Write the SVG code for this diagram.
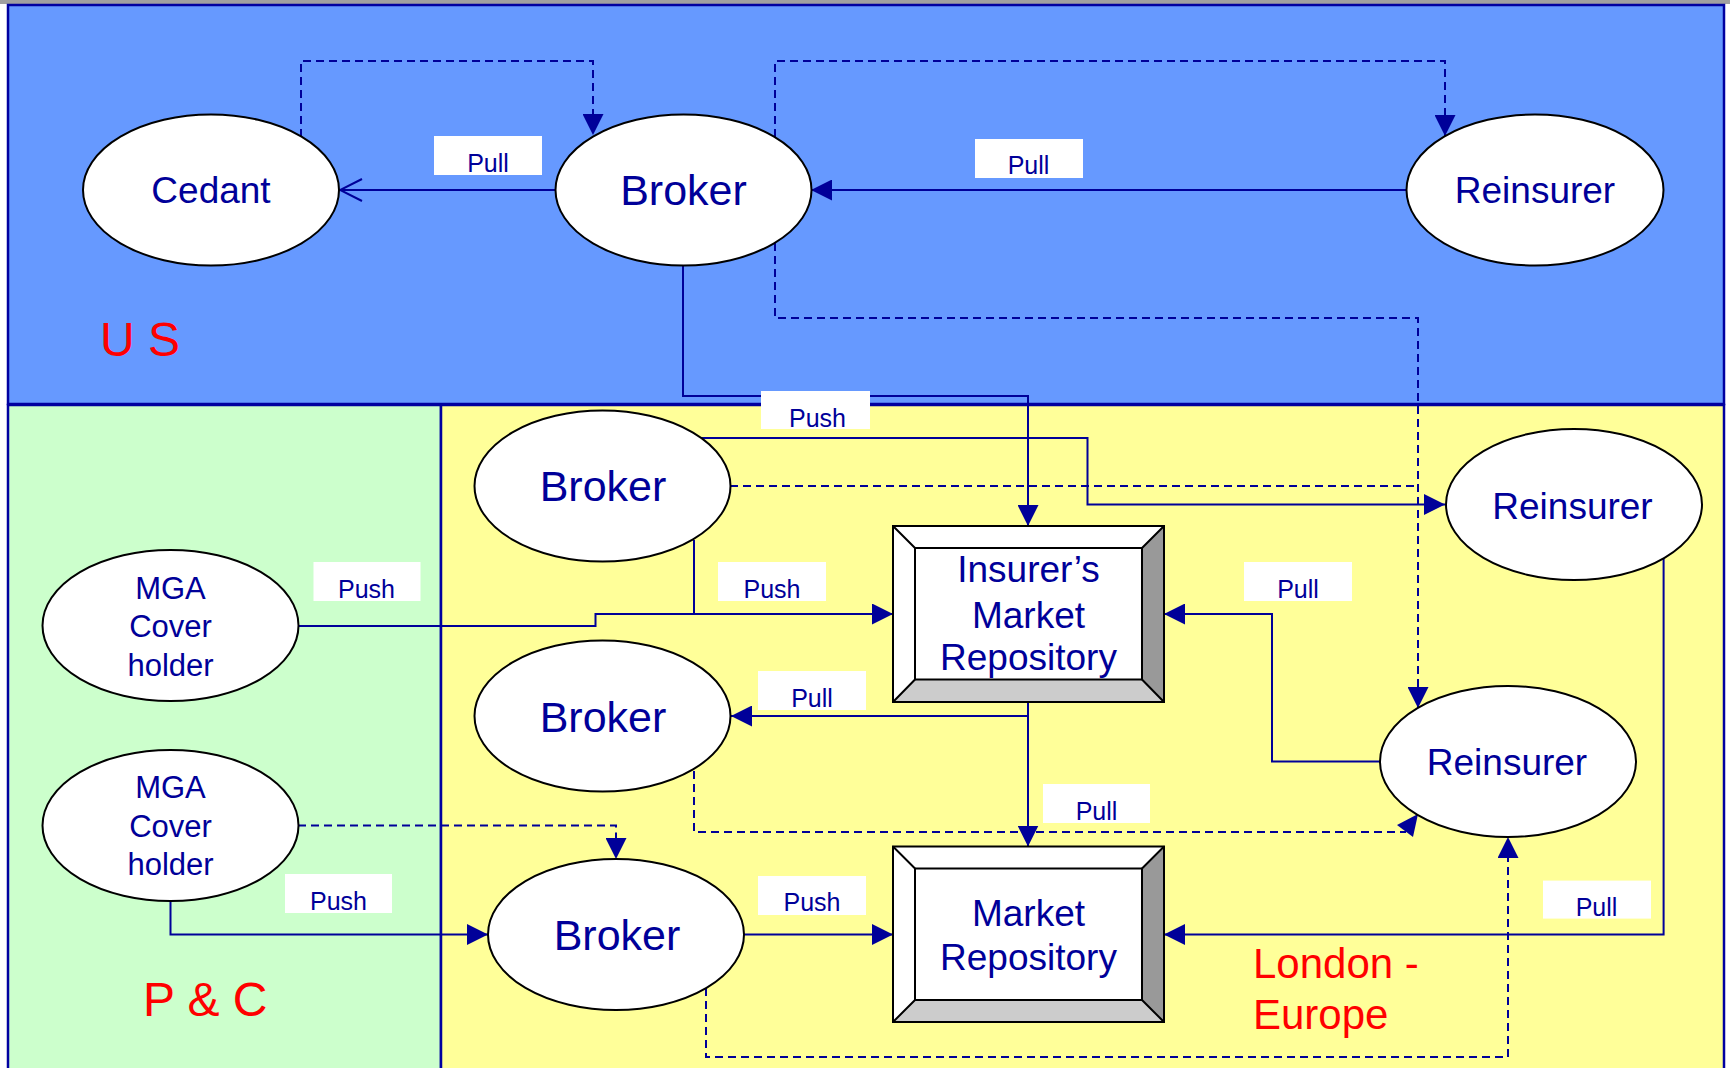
<svg xmlns="http://www.w3.org/2000/svg" width="1730" height="1068" viewBox="0 0 1730 1068">
<style>
.region{stroke:#0000A0;stroke-width:2.5}
.node ellipse{fill:#ffffff;stroke:#000000;stroke-width:2}
.nt{font-family:"Liberation Sans",Arial,sans-serif;fill:#000099;text-anchor:middle}
.ln{fill:none;stroke:#000099;stroke-width:2}
.dash{stroke-dasharray:8 5}
.lbl rect{fill:#ffffff}
.lbl text{font-family:"Liberation Sans",Arial,sans-serif;font-size:25px;fill:#000099;text-anchor:middle}
.reg{font-family:"Liberation Sans",Arial,sans-serif;fill:#ff0000}
.bev{stroke:#000000;stroke-width:2}
</style>
<defs>
<marker id="arr" viewBox="0 0 21 21" markerWidth="21" markerHeight="21" refX="21" refY="10.5" orient="auto" markerUnits="userSpaceOnUse">
<path d="M0,0 L21,10.5 L0,21 z" fill="#000099"/>
</marker>
<marker id="open" viewBox="-1 -1 25 25" markerWidth="25" markerHeight="25" refX="22" refY="11" orient="auto" markerUnits="userSpaceOnUse">
<path d="M0,0 L22,11 L0,22" fill="none" stroke="#000099" stroke-width="2"/>
</marker>
</defs>
<rect x="0" y="0" width="1730" height="1068" fill="#ffffff"/>
<rect x="0" y="0" width="1730" height="4" fill="#A0A0A0"/>
<g id="regions">
<rect class="region" x="8" y="5" width="1716" height="399" fill="#6699FF"/>
<rect class="region" x="8" y="405" width="433" height="665" fill="#CCFFCC"/>
<rect class="region" x="441" y="405" width="1283" height="665" fill="#FFFF99"/>
<text class="reg" x="100" y="356" font-size="48">U S</text>
<text class="reg" x="143" y="1016" font-size="48">P &amp; C</text>
<text class="reg" x="1253" y="978" font-size="42">London -</text>
<text class="reg" x="1253" y="1029" font-size="42">Europe</text>
</g>
<g id="connectors">
<path class="ln dash" d="M301,137 V61 H593 V135" marker-end="url(#arr)"/>
<path class="ln dash" d="M775,137 V61 H1445 V136" marker-end="url(#arr)"/>
<path class="ln dash" d="M775,243 V318 H1418 V708" marker-end="url(#arr)"/>
<path class="ln dash" d="M730,486 H1418"/>
<path class="ln dash" d="M694,771 V832 H1406"/>
<polygon points="1418,814 1397,825 1413,837" fill="#000099"/>
<path class="ln dash" d="M298,825.5 H616 V859" marker-end="url(#arr)"/>
<path class="ln dash" d="M706,988 V1057 H1508 V837" marker-end="url(#arr)"/>
<path class="ln" d="M555,190 H340" marker-end="url(#open)"/>
<path class="ln" d="M1407,190 H811" marker-end="url(#arr)"/>
<path class="ln" d="M683,266 V396 H1028 V526" marker-end="url(#arr)"/>
<path class="ln" d="M693,433 V438 H1087.5 V504.5 H1445" marker-end="url(#arr)"/>
<path class="ln" d="M298,626 H595.5 V614 H893" marker-end="url(#arr)"/>
<path class="ln" d="M694,540 V614"/>
<path class="ln" d="M1028,702 V716 H731" marker-end="url(#arr)"/>
<path class="ln" d="M1028,716 V846.5" marker-end="url(#arr)"/>
<path class="ln" d="M170.5,900.6 V934.5 H488" marker-end="url(#arr)"/>
<path class="ln" d="M744,934.5 H893" marker-end="url(#arr)"/>
<path class="ln" d="M1380,761.5 H1272 V614 H1164" marker-end="url(#arr)"/>
<path class="ln" d="M1663.6,558.5 V934.5 H1164" marker-end="url(#arr)"/>
<g class="lbl">
<rect x="434" y="136" width="108" height="39"/><text x="488" y="172">Pull</text>
<rect x="975" y="139" width="108" height="39"/><text x="1028.5" y="174">Pull</text>
<rect x="761" y="391" width="109" height="38"/><text x="817.5" y="427">Push</text>
<rect x="313.5" y="562" width="107" height="39"/><text x="366.5" y="598">Push</text>
<rect x="718" y="562" width="108" height="39"/><text x="772" y="598">Push</text>
<rect x="758" y="671" width="108" height="39"/><text x="812" y="707">Pull</text>
<rect x="285" y="874" width="107" height="39"/><text x="338.5" y="910">Push</text>
<rect x="758" y="876" width="108" height="39"/><text x="812" y="911">Push</text>
<rect x="1244" y="562" width="108" height="39"/><text x="1298" y="598">Pull</text>
<rect x="1043" y="784" width="107" height="39"/><text x="1096.5" y="820">Pull</text>
<rect x="1543" y="880.6" width="108" height="38"/><text x="1596.5" y="916">Pull</text>
</g>
</g>
<g id="cedant" class="node"><ellipse cx="211" cy="190" rx="128" ry="75.5"/><text class="nt" x="211" y="203" font-size="37">Cedant</text></g>
<g id="broker-us" class="node"><ellipse cx="683.5" cy="190" rx="128" ry="75.5"/><text class="nt" x="683.5" y="205" font-size="43">Broker</text></g>
<g id="reinsurer-us" class="node"><ellipse cx="1535" cy="190" rx="128.5" ry="75.5"/><text class="nt" x="1535" y="203" font-size="37">Reinsurer</text></g>
<g id="broker-1" class="node"><ellipse cx="602.5" cy="486" rx="128" ry="75.5"/><text class="nt" x="603" y="501" font-size="43">Broker</text></g>
<g id="broker-2" class="node"><ellipse cx="602.5" cy="716" rx="128" ry="75.5"/><text class="nt" x="603" y="731.5" font-size="43">Broker</text></g>
<g id="broker-3" class="node"><ellipse cx="616" cy="934.5" rx="128" ry="75.5"/><text class="nt" x="617" y="949.5" font-size="43">Broker</text></g>
<g id="mga-1" class="node"><ellipse cx="170.5" cy="625.5" rx="128" ry="75.5"/><text class="nt" x="170.5" y="599" font-size="31">MGA</text><text class="nt" x="170.5" y="637" font-size="31">Cover</text><text class="nt" x="170.5" y="676" font-size="31">holder</text></g>
<g id="mga-2" class="node"><ellipse cx="170.5" cy="825.5" rx="128" ry="75.5"/><text class="nt" x="170.5" y="798" font-size="31">MGA</text><text class="nt" x="170.5" y="837" font-size="31">Cover</text><text class="nt" x="170.5" y="875" font-size="31">holder</text></g>
<g id="reinsurer-1" class="node"><ellipse cx="1574" cy="504.5" rx="128" ry="75.5"/><text class="nt" x="1572.5" y="518.5" font-size="37">Reinsurer</text></g>
<g id="reinsurer-2" class="node"><ellipse cx="1508" cy="761.5" rx="128" ry="75.5"/><text class="nt" x="1507" y="775" font-size="37">Reinsurer</text></g>
<g id="insurers-market-repository">
<rect x="893" y="526" width="271" height="176" fill="#ffffff"/>
<polygon points="1164,526 1164,702 1142,679.5 1142,548" fill="#999999"/>
<polygon points="893,702 1164,702 1142,679.5 915,679.5" fill="#CCCCCC"/>
<rect class="bev" x="893" y="526" width="271" height="176" fill="none"/>
<rect class="bev" x="915" y="548" width="227" height="131.5" fill="#ffffff"/>
<path class="bev" d="M893,526 L915,548 M1164,526 L1142,548 M893,702 L915,679.5 M1164,702 L1142,679.5"/>
<text class="nt" x="1028.5" y="582" font-size="37">Insurer’s</text>
<text class="nt" x="1028.5" y="628" font-size="37">Market</text>
<text class="nt" x="1028.5" y="670" font-size="37">Repository</text>
</g>
<g id="market-repository">
<rect x="893" y="846.5" width="271" height="175.5" fill="#ffffff"/>
<polygon points="1164,846.5 1164,1022 1142,1000 1142,868.5" fill="#999999"/>
<polygon points="893,1022 1164,1022 1142,1000 915,1000" fill="#CCCCCC"/>
<rect class="bev" x="893" y="846.5" width="271" height="175.5" fill="none"/>
<rect class="bev" x="915" y="868.5" width="227" height="131.5" fill="#ffffff"/>
<path class="bev" d="M893,846.5 L915,868.5 M1164,846.5 L1142,868.5 M893,1022 L915,1000 M1164,1022 L1142,1000"/>
<text class="nt" x="1028.5" y="926" font-size="37">Market</text>
<text class="nt" x="1028.5" y="970" font-size="37">Repository</text>
</g>
</svg>
